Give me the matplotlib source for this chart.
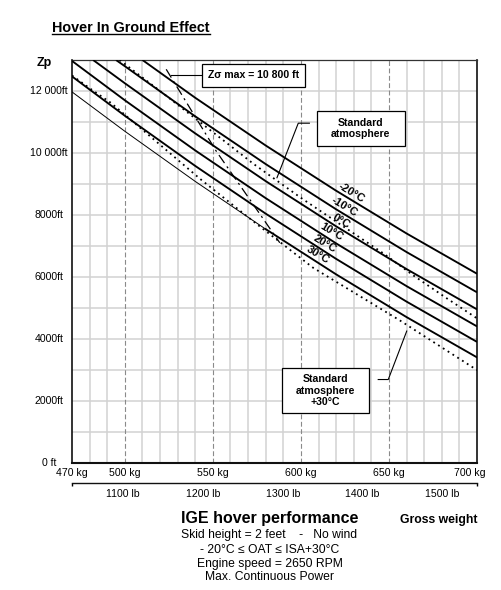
import matplotlib
matplotlib.use('Agg')
import matplotlib.pyplot as plt
from matplotlib.patches import Rectangle
from matplotlib.lines import Line2D

plt.rcParams['font.family'] = ['Liberation Sans', 'DejaVu Sans']
plt.rcParams['lines.scale_dashes'] = False

# ---------------- data (gross weight kg, pressure altitude ft) ----------------
temp_labels = ['-20°C', '-10°C', '0°C', '10°C', '20°C', '30°C']
kg_m20 = [510, 540, 580, 620, 660, 700]
ft_m20 = [13000, 11780, 10240, 8780, 7400, 6100]
kg_m10 = [495, 500, 540, 580, 620, 660, 700]
ft_m10 = [13000, 12800, 11180, 9640, 8180, 6800, 5500]
kg_0 = [482, 500, 540, 580, 620, 660, 700]
ft_0 = [13000, 12250, 10630, 9090, 7630, 6250, 4950]
kg_10 = [470, 500, 540, 580, 620, 660, 700]
ft_10 = [12970, 11700, 10080, 8540, 7080, 5700, 4400]
kg_20 = [470, 500, 540, 580, 620, 660, 700]
ft_20 = [12470, 11200, 9580, 8040, 6580, 5200, 3900]
kg_30 = [470, 500, 540, 580, 620, 660, 700]
ft_30 = [11970, 10700, 9080, 7540, 6080, 4700, 3400]
thin_end_30 = 4          # first 4 points of the 30°C curve are drawn thin

kg_isa = [497, 520, 573, 600, 647, 664, 683, 700]
ft_isa = [13000, 12000, 9650, 8550, 6750, 6040, 5300, 4660]
kg_isa30 = [470, 481, 492, 543, 575, 607, 656, 700]
ft_isa30 = [12500, 12050, 11620, 9150, 7700, 6290, 4600, 2990]
kg_zsig = [523.5, 552, 588]
ft_zsig = [12700, 10050, 7100]

label_kg = [629.0, 625.0, 622.8, 617.1, 613.7, 609.7]
label_ft = [8715, 8265, 7782, 7460, 7074, 6720]

kg_ticks = [470, 500, 550, 600, 650, 700]
kg_tick_labels = ['470 kg', '500 kg', '550 kg', '600 kg', '650 kg', '700 kg']
ft_ticks = [0, 2000, 4000, 6000, 8000, 10000, 12000]
ft_tick_labels = ['0 ft', '2000ft', '4000ft', '6000ft', '8000ft', '10 000ft', '12 000ft']
lb_ticks = [1100, 1200, 1300, 1400, 1500]
lb_tick_labels = ['1100 lb', '1200 lb', '1300 lb', '1400 lb', '1500 lb']
major_kg = [500, 550, 600, 650]

# ---------------- figure ----------------
W, H = 501, 590
fig = plt.figure(figsize=(W / 100, H / 100), dpi=100)
ax_l, ax_r, ax_t, ax_b = 72, 477, 60, 462.7
ax = fig.add_axes([ax_l / W, 1 - ax_b / H, (ax_r - ax_l) / W, (ax_b - ax_t) / H])
ax.set_xlim(470, 700)
ax.set_ylim(0, 13000)

# grid
for k in range(480, 700, 10):
    if k in major_kg:
        continue
    ax.axvline(k, color='#d2d2d2', lw=1.1, zorder=1)
for f in range(1000, 13000, 1000):
    ax.axhline(f, color='#d2d2d2', lw=1.1, zorder=1)
for k in major_kg:
    ax.axvline(k, color='#8a8a8a', lw=0.8, ls=(0, (3.5, 1.8)), zorder=1.5)

# curves
thick = 1.35
thin = 0.7
for kk, ff in [(kg_m20, ft_m20), (kg_m10, ft_m10), (kg_0, ft_0), (kg_10, ft_10), (kg_20, ft_20)]:
    ax.plot(kk, ff, color='black', lw=thick, zorder=3, solid_capstyle='butt')
ax.plot(kg_30[:thin_end_30], ft_30[:thin_end_30], color='black', lw=thin, zorder=3)
ax.plot(kg_30[thin_end_30 - 1:], ft_30[thin_end_30 - 1:], color='black', lw=thick, zorder=3)

dot = (0, (1.3, 2.8))
ax.plot(kg_isa, ft_isa, color='black', lw=1.3, ls=dot, zorder=3)
ax.plot(kg_isa30, ft_isa30, color='black', lw=1.3, ls=dot, zorder=3)
ax.plot(kg_zsig, ft_zsig, color='black', lw=0.9, ls=(0, (7, 3, 1.5, 3)), zorder=3)

for lbl, k, f in zip(temp_labels, label_kg, label_ft):
    ax.text(k, f, lbl, rotation=-31, rotation_mode='anchor', ha='center', va='center',
            fontsize=8, fontweight='bold', zorder=4)

# annotation boxes (data coords)
def box(k0, k1, f0, f1, text, cx, cy):
    ax.add_patch(Rectangle((k0, f0), k1 - k0, f1 - f0, facecolor='white',
                           edgecolor='black', lw=0.9, zorder=5))
    ax.text(cx, cy, text, ha='center', va='center', fontsize=7.6, fontweight='bold',
            linespacing=1.15, zorder=6)

box(543.6, 602.3, 12128, 12878, 'Zσ max = 10 800 ft', 573.0, 12500)
ax.plot([526.0, 543.6], [12505, 12505], color='black', lw=0.8, zorder=4)

box(609.0, 659.1, 10229, 11356, 'Standard\natmosphere', 634.0, 10792)
ax.plot([604.8, 598.5, 586.4], [10960, 10960, 9199], color='black', lw=0.8, zorder=4)

box(589.1, 638.8, 1590, 3059, 'Standard\natmosphere\n+30°C', 614.0, 2325)
ax.plot([643.9, 649.6, 660.1], [2685, 2685, 4250], color='black', lw=0.8, zorder=4)

# spines & ticks
for s in ['left', 'right', 'bottom']:
    ax.spines[s].set_color('#111111')
    ax.spines[s].set_linewidth(1.2)
ax.spines['bottom'].set_linewidth(1.5)
ax.spines['top'].set_color('#333333')
ax.spines['top'].set_linewidth(0.9)
ax.set_xticks([])
ax.set_yticks([])

for k, lbl in zip(kg_ticks, kg_tick_labels):
    dx = -5 if k == 700 else 0
    ax.annotate(lbl, xy=(k, 0), xycoords=('data', 'axes fraction'),
                xytext=(dx, -7.6), textcoords='offset points',
                ha='center', va='center', fontsize=7.6)
for f, lbl in zip(ft_ticks, ft_tick_labels):
    ax.annotate(lbl, xy=(0, f), xycoords=('axes fraction', 'data'),
                xytext=(-16.6, 0), textcoords='offset points',
                ha='center', va='center', fontsize=7.6)

# secondary lb axis
kg2lb = 2.20462
sec = ax.secondary_xaxis(-(483.3 - ax_b) / (ax_b - ax_t),
                         functions=(lambda x: x * kg2lb, lambda x: x / kg2lb))
sec.set_xticks(lb_ticks, lb_tick_labels)
sec.set_xticks([470 * kg2lb, 700 * kg2lb], minor=True)
sec.tick_params(which='major', length=0, pad=4.2, labelsize=7.6)
sec.tick_params(which='minor', length=2.5, width=1.0, direction='out')
sec.spines['bottom'].set_linewidth(1.0)
sec.spines['bottom'].set_color('#111111')

# texts outside axes (figure pixel positions)
def ftext(x, y, s, **kw):
    return fig.text(x / W, 1 - y / H, s, **kw)

title = ftext(52, 32.3, 'Hover In Ground Effect', fontsize=10.4, fontweight='bold',
              ha='left', va='baseline')
ftext(44.5, 66, 'Zp', fontsize=9, fontweight='bold', ha='center', va='baseline')
ftext(269.5, 523.3, 'IGE hover performance', fontsize=11.5, fontweight='bold',
      ha='center', va='baseline')
ftext(477, 523.3, 'Gross weight', fontsize=8.8, fontweight='bold', ha='right', va='baseline')
ftext(269.5, 538.3, 'Skid height = 2 feet    -   No wind', fontsize=8.7, ha='center', va='baseline')
ftext(269.5, 552.7, '- 20°C ≤ OAT ≤ ISA+30°C', fontsize=8.7, ha='center', va='baseline')
ftext(269.5, 566.7, 'Engine speed = 2650 RPM', fontsize=8.7, ha='center', va='baseline')
ftext(269.5, 580, 'Max. Continuous Power', fontsize=8.7, ha='center', va='baseline')

# underline title
fig.canvas.draw()
bb = title.get_window_extent()
uy = 1 - 34.2 / H
fig.add_artist(Line2D([bb.x0 / W, bb.x1 / W], [uy, uy], transform=fig.transFigure,
                      color='black', lw=1.0))

fig.savefig('out.png', dpi=100)
